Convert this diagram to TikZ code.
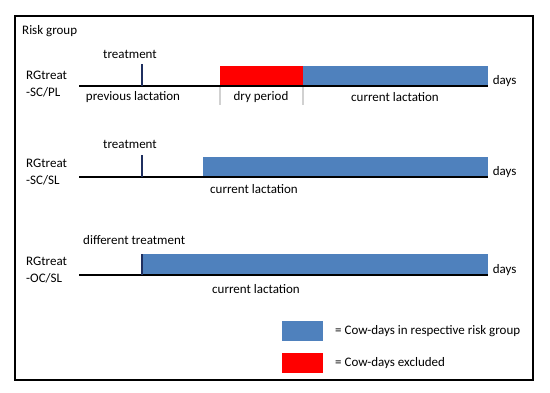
\documentclass[tikz,border=0pt]{standalone}
\usepackage{fontspec}
\setmainfont{Carlito}
\usepackage{tikz}

\definecolor{cowblue}{HTML}{4F81BD}
\definecolor{cowred}{HTML}{FF0000}
\definecolor{ticknavy}{HTML}{1F2F5F}

\tikzset{
  axis/.style={line width=1.6pt, black},
  tick/.style={line width=1.3pt, ticknavy},
  divider/.style={line width=1.2pt, black!18},
  lbl/.style={inner sep=1pt, text=black}
}

\begin{document}
\begin{tikzpicture}[x=1pt, y=-1pt, font=\fontsize{13}{17}\selectfont]
        \useasboundingbox (0,0) rectangle (550,393);
        \draw[line width=1.1pt] (15,16) rectangle (533,380);
        \node[lbl, anchor=west] (title) at (21,31) {Risk group};

        % RGtreat-SC/PL
        \node[lbl, anchor=west, align=left] (rg1) at (25,84) {RGtreat\\-SC/PL};
        \fill[cowred] (220,66) rectangle (303,86);
        \fill[cowblue] (303,66) rectangle (488,86);
        \draw[divider] (220,86) -- (220,105);
        \draw[divider] (303,86) -- (303,105);
        \coordinate (s1) at (79,86);
        \coordinate (e1) at (488,86);
        \draw[axis] (s1) -- (e1) node[lbl, anchor=west, xshift=3pt, yshift=5pt] (d1) {days};
        \coordinate (t1) at (142,86);
        \draw[tick] (t1) -- ++(0,-22);
        \node[lbl] (tr1) at (130,54) {treatment};
        \node[lbl] (pl1) at (133,97) {previous lactation};
        \node[lbl] (dp1) at (261,97) {dry period};
        \node[lbl] (cl1) at (395,97) {current lactation};

        % RGtreat-SC/SL
        \node[lbl, anchor=west, align=left] (rg2) at (25,172) {RGtreat\\-SC/SL};
        \fill[cowblue] (203,157) rectangle (488,177);
        \coordinate (s2) at (79,177);
        \coordinate (e2) at (488,177);
        \draw[axis] (s2) -- (e2) node[lbl, anchor=west, xshift=3pt, yshift=5pt] (d2) {days};
        \coordinate (t2) at (142,177);
        \draw[tick] (t2) -- ++(0,-22);
        \node[lbl] (tr2) at (130,144) {treatment};
        \node[lbl] (cl2) at (254,189) {current lactation};

        % RGtreat-OC/SL
        \node[lbl, anchor=west, align=left] (rg3) at (25,270) {RGtreat\\-OC/SL};
        \fill[cowblue] (142,254) rectangle (488,275);
        \coordinate (s3) at (79,275);
        \coordinate (e3) at (488,275);
        \draw[axis] (s3) -- (e3) node[lbl, anchor=west, xshift=3pt, yshift=5pt] (d3) {days};
        \coordinate (t3) at (142,275);
        \draw[tick] (t3) -- ++(0,-21);
        \node[lbl, anchor=west] (tr3) at (82,240) {different treatment};
        \node[lbl] (cl3) at (256,289) {current lactation};

        % legend
        \fill[cowblue] (282,321) rectangle (323,341);
        \fill[cowred] (282,353) rectangle (323,373);
        \node[lbl, anchor=west] (lg1) at (334,331) {= Cow-days in respective risk group};
        \node[lbl, anchor=west] (lg2) at (334,363) {= Cow-days excluded};
\end{tikzpicture}
\end{document}
